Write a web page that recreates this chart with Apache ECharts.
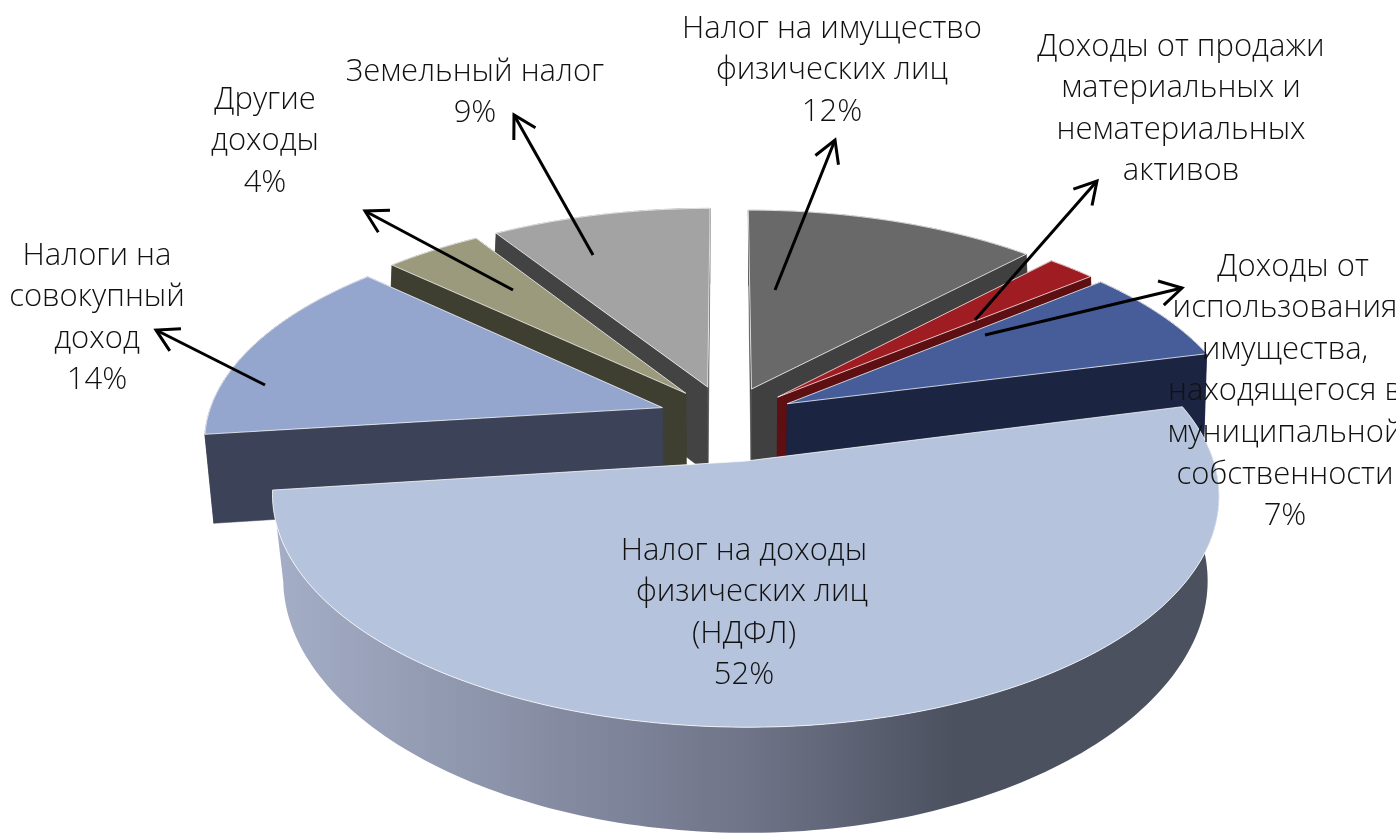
<!DOCTYPE html>
<html><head><meta charset="utf-8">
<style>html,body{margin:0;padding:0;background:#fff}#c{width:1396px;height:833px}</style>
<script src="https://cdn.jsdelivr.net/npm/echarts@6/dist/echarts.min.js"></script>
</head><body><div id="c"></div>
<script>
// Data, clockwise from 12 o'clock
const categories = [
  'Налог на имущество\nфизических лиц',
  'Доходы от продажи\nматериальных и\nнематериальных\nактивов',
  '  Доходы от\nиспользования\nимущества,\nнаходящегося в\nмуниципальной\nсобственности',
  'Налог на доходы\n  физических лиц\n(НДФЛ)',
  'Налоги на\nсовокупный\nдоход',
  'Другие\nдоходы',
  'Земельный налог'
];
const values = [12, 2, 7, 52, 14, 4, 9];
const showPercent = [true, false, true, true, true, true, true];

// Styles (top face, side face), layout
const topColors  = ['#696969', '#9E1C22', '#465D9A', '#B6C3DC', '#94A5CE', '#9C9A7C', '#A3A3A3'];
const sideColors = ['#404040', '#5E0F12', '#1B2542', '#4C5160', '#3C4257', '#3F3F31', '#434343'];
const drawOrder  = [6, 0, 5, 1, 2, 4, 3];
const labelPos = [[832, 8], [1181, 26], [1285, 246], [744, 530], [97, 235], [265, 79], [475, 51]];
const sliceNudge = [[-1, -4], [0, -4], [-2, -5], [5, 3], [2, -6], [3, -5], [0, -5]];
const radiusScale = [[1, 0.97], [1, 0.97], [1, 0.97], [1.006, 0.99], [1, 0.97], [1, 0.97], [1, 0.97]];
const arrows = [
  [[775, 290], [835, 140]], [[975, 320], [1097, 181]], [[985, 335], [1182, 288]],
  [[265, 385], [156, 330]], [[513, 290], [365, 211]], [[593, 255], [514, 115]]
];

const P = {cx: 727, cy: 424, rx: 455, ry: 219, p: 0.146, depth: 88, explode: 0.155};

function project(X, Y, Z) {
  const w = 1 / (1 - P.p * Y);
  const s = Z ? 0.985 - 0.03 * Y : 1;
  return [P.cx + P.rx * X * w * s, P.cy + P.ry * Y * w + Z * P.depth * w];
}
const total = values.reduce((a, b) => a + b, 0);
const TAU = Math.PI * 2;
function sliceGeom(i) {
  let before = 0;
  for (let k = 0; k < i; k++) before += values[k];
  const a0 = before / total * TAU, a1 = (before + values[i]) / total * TAU, m = (a0 + a1) / 2;
  const ox = Math.sin(m) * P.explode, oy = -Math.cos(m) * P.explode;
  const nudge = sliceNudge[i], rs = radiusScale[i];
  const pt = (a, r, z) => {
    const q = project(ox + r * rs[0] * Math.sin(a), oy - r * rs[1] * Math.cos(a), z);
    return [q[0] + nudge[0], q[1] + nudge[1]];
  };
  const n = Math.max(4, Math.ceil((a1 - a0) / 0.02));
  const arc = z => { const o = []; for (let j = 0; j <= n; j++) o.push(pt(a0 + (a1 - a0) * j / n, 1, z)); return o; };
  return {a0, a1, pt, arc};
}
function poly(points, fill, z2, stroke) {
  return {type: 'polygon', z2, shape: {points},
    style: {fill, stroke: stroke || (typeof fill === 'string' ? fill : null), lineWidth: stroke ? 1 : 0.5}};
}
const mainGradient = () => new echarts.graphic.LinearGradient(272, 0, 1220, 0, [
  {offset: 0, color: '#A4AEC6'}, {offset: 0.3, color: '#858CA2'}, {offset: 0.5, color: '#6F7488'},
  {offset: 0.72, color: '#4C5160'}, {offset: 1, color: '#4C5160'}
], true);

function renderSlice(params) {
  const i = params.dataIndex, g = sliceGeom(i), base = drawOrder.indexOf(i) * 10;
  const isMain = values[i] === Math.max(...values);
  const side = isMain ? mainGradient() : sideColors[i];
  const children = [poly(g.arc(0).concat(g.arc(1).reverse()), side, base + 1)];
  const wall = a => [g.pt(a, 0, 0), g.pt(a, 1, 0), g.pt(a, 1, 1), g.pt(a, 0, 1)];
  if (!isMain) {
    // the wall nearer the viewer goes on top
    const walls = [g.a0, g.a1].sort((p, q) => (-Math.cos(p)) - (-Math.cos(q)));
    walls.forEach((a, k) => children.push(poly(wall(a), side, base + 2 + k)));
  }
  children.push(poly([g.pt(0, 0, 0)].concat(g.arc(0)), topColors[i], base + 5, 'rgba(255,255,255,0.75)'));
  return {type: 'group', children};
}
function renderLabel(params) {
  const i = params.dataIndex;
  const text = categories[i] + (showPercent[i] ? '\n' + values[i] + '%' : '');
  return {type: 'text', z2: 200, x: labelPos[i][0], y: labelPos[i][1],
    style: {text, align: 'center', verticalAlign: 'top', fill: '#111',
      font: '300 31px "Open Sans", sans-serif', lineHeight: 41.6}};
}
function arrowPieces(a) {
  const [s, t] = a, ang = Math.atan2(t[1] - s[1], t[0] - s[0]), L = 25, sp = 0.52;
  const h = d => [t[0] - L * Math.cos(ang + d), t[1] - L * Math.sin(ang + d)];
  return [
    {type: 'polyline', z: 50, shape: {points: [s, t]}, style: {stroke: '#000', lineWidth: 3, fill: null}},
    {type: 'polyline', z: 50, shape: {points: [h(sp), t, h(-sp)]}, style: {stroke: '#000', lineWidth: 3, fill: null}}
  ];
}
const chart = echarts.init(document.getElementById('c'), null, {renderer: 'canvas'});
chart.setOption({
  animation: false,
  backgroundColor: '#fff',
  graphic: {elements: arrows.flatMap(arrowPieces)},
  series: [
    {type: 'custom', coordinateSystem: 'none', silent: true, z: 2, renderItem: renderSlice, data: values},
    {type: 'custom', coordinateSystem: 'none', silent: true, z: 60, renderItem: renderLabel, data: values}
  ]
});
</script></body></html>
